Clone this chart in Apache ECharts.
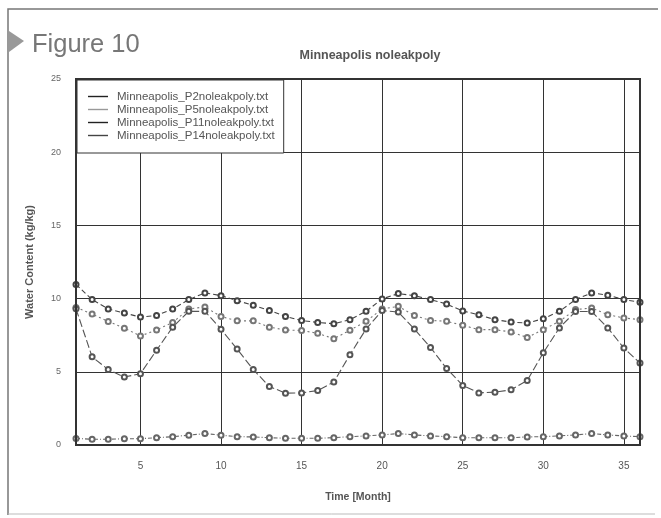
<!DOCTYPE html>
<html>
<head>
<meta charset="utf-8">
<script src="https://cdn.jsdelivr.net/npm/echarts@6/dist/echarts.min.js"></script>
<style>
  html, body { margin: 0; padding: 0; background: #fff; }
  #chart { width: 661px; height: 518px; }
</style>
</head>
<body>
<div id="chart"></div>
<script>
// 月份 (横坐标)
const months = [1, 2, 3, 4, 5, 6, 7, 8, 9, 10, 11, 12, 13, 14, 15, 16, 17, 18,
  19, 20, 21, 22, 23, 24, 25, 26, 27, 28, 29, 30, 31, 32, 33, 34, 35, 36]
const xTicks = [5, 10, 15, 20, 25, 30, 35]

const seriesNames = ['Minneapolis_P2noleakpoly.txt', 'Minneapolis_P5noleakpoly.txt',
  'Minneapolis_P11noleakpoly.txt', 'Minneapolis_P14noleakpoly.txt']

// 含水量 (kg/kg)
const p2 = [10.97, 9.93, 9.29, 9.01, 8.74, 8.85, 9.29, 9.93, 10.39, 10.2, 9.86, 9.54,
  9.19, 8.78, 8.5, 8.37, 8.28, 8.56, 9.13, 9.98, 10.34, 10.2, 9.93, 9.63,
  9.15, 8.9, 8.56, 8.4, 8.33, 8.63, 9.13, 9.93, 10.39, 10.23, 9.93, 9.75]
const p5 = [9.4, 8.94, 8.44, 7.98, 7.45, 7.86, 8.37, 9.29, 9.43, 8.78, 8.48, 8.48,
  8.05, 7.86, 7.82, 7.63, 7.26, 7.84, 8.45, 9.29, 9.47, 8.84, 8.51, 8.45,
  8.18, 7.88, 7.88, 7.72, 7.35, 7.88, 8.45, 9.25, 9.36, 8.9, 8.68, 8.56]
const p11 = [9.3, 6.02, 5.15, 4.64, 4.87, 6.48, 8.05, 9.13, 9.13, 7.91, 6.55, 5.15,
  4.0, 3.54, 3.56, 3.72, 4.3, 6.17, 7.92, 9.18, 9.08, 7.92, 6.66, 5.22,
  4.07, 3.56, 3.61, 3.77, 4.4, 6.3, 8.0, 9.12, 9.12, 8.0, 6.62, 5.6]
const p14 = [0.45, 0.39, 0.39, 0.43, 0.43, 0.5, 0.57, 0.67, 0.78, 0.67, 0.57, 0.55,
  0.5, 0.46, 0.46, 0.46, 0.5, 0.57, 0.62, 0.69, 0.78, 0.69, 0.62, 0.57,
  0.5, 0.5, 0.5, 0.5, 0.55, 0.57, 0.62, 0.69, 0.78, 0.69, 0.62, 0.57]

const allData = [p2, p5, p11, p14]
const lineColors = ['#444', '#777', '#555', '#666']
const dashTypes = [[5, 3], [2, 3], [8, 3], [4, 2, 1, 2]]
const FONT = 'Liberation Sans, Arial, sans-serif'

let chart = echarts.init(document.getElementById('chart'))

let series = allData.map((vals, i) => ({
  name: seriesNames[i],
  type: 'line',
  data: months.map((m, k) => [m, vals[k]]),
  symbol: 'emptyCircle',
  symbolSize: 5,
  z: 5,
  itemStyle: { color: lineColors[i], borderColor: '#777', borderWidth: 1 },
  lineStyle: { color: lineColors[i], width: 1.1, type: dashTypes[i] },
  animation: false
}))

// 竖向网格线
series[0].markLine = {
  silent: true,
  symbol: 'none',
  label: { show: false },
  lineStyle: { color: '#333', width: 1, type: 'solid' },
  data: xTicks.map(v => ({ xAxis: v }))
}

chart.setOption({
  backgroundColor: '#fff',
  animation: false,
  title: {
    text: 'Minneapolis noleakpoly',
    left: 365,
    top: 44,
    textAlign: 'center',
    textStyle: { fontFamily: FONT, fontSize: 12.5, fontWeight: 'bold', color: '#555' }
  },
  legend: {
    orient: 'vertical',
    left: 77,
    top: 80,
    padding: [10, 9, 11, 11],
    itemGap: 0,
    itemWidth: 20,
    itemHeight: 1.4,
    icon: 'rect',
    backgroundColor: '#fff',
    borderColor: '#333',
    borderWidth: 1,
    z: 10,
    textStyle: { fontFamily: FONT, fontSize: 11.5, lineHeight: 13, color: '#555', padding: [0, 0, 0, 4] },
    data: seriesNames.map((n, i) => ({
      name: n,
      itemStyle: { color: ['#222', '#999', '#222', '#444'][i], borderWidth: 0 }
    }))
  },
  grid: { left: 76, right: 21, top: 79, bottom: 73 },
  xAxis: {
    type: 'value',
    min: 1,
    max: 36,
    name: 'Time [Month]',
    nameLocation: 'middle',
    nameGap: 47,
    nameTextStyle: { fontFamily: FONT, fontSize: 10.5, fontWeight: 'bold', color: '#555' },
    axisLine: { show: false },
    axisTick: { show: false },
    splitLine: { show: false },
    axisLabel: {
      customValues: xTicks,
      margin: 16,
      fontFamily: FONT,
      fontSize: 10,
      color: '#555'
    }
  },
  yAxis: {
    type: 'value',
    min: 0,
    max: 25,
    interval: 5,
    name: 'Water Content (kg/kg)',
    nameLocation: 'middle',
    nameGap: 41,
    nameTextStyle: { fontFamily: FONT, fontSize: 11, fontWeight: 'bold', color: '#555' },
    axisLine: { show: false },
    axisTick: { show: false },
    splitLine: { show: true, lineStyle: { color: '#333', width: 1 } },
    axisLabel: { margin: 15, fontFamily: FONT, fontSize: 9, color: '#666' }
  },
  graphic: [
    // 图框
    {
      type: 'rect',
      shape: { x: 76, y: 79, width: 564, height: 366 },
      style: { fill: 'none', stroke: '#333', lineWidth: 2 },
      z: 20
    },
    // 外框
    {
      type: 'polyline',
      shape: { points: [[8, 515], [8, 9], [658, 9]] },
      style: { fill: 'none', stroke: '#777', lineWidth: 1.5 }
    },
    {
      type: 'line',
      shape: { x1: 8, y1: 514, x2: 655, y2: 514 },
      style: { stroke: '#bbb', lineWidth: 1 }
    },
    {
      type: 'polygon',
      shape: { points: [[9, 31], [24, 41], [9, 52]] },
      style: { fill: '#999' }
    },
    {
      type: 'text',
      left: 32,
      top: 32,
      style: { text: 'Figure 10', font: '25.5px Liberation Sans, Arial, sans-serif', fill: '#777' }
    }
  ],
  series: series
})
</script>
</body>
</html>
